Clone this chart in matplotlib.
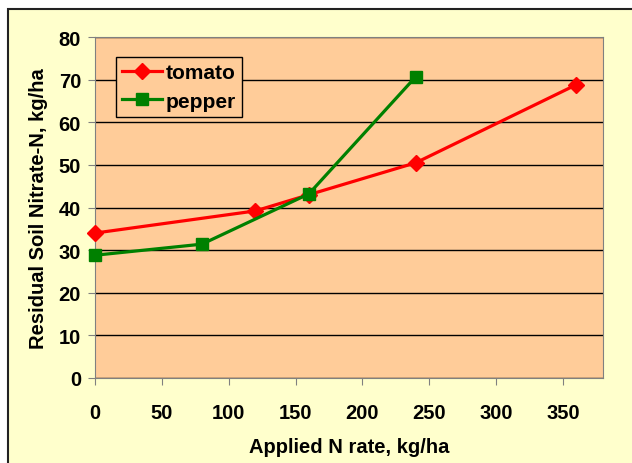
import matplotlib.pyplot as plt
from matplotlib.patches import Rectangle

plt.rcParams['font.family'] = ['Liberation Sans', 'DejaVu Sans']
plt.rcParams['font.weight'] = 'bold'

tomato_x = [0, 120, 160, 240, 360]
tomato_y = [34.0, 39.2, 43.0, 50.5, 68.8]
pepper_x = [0, 80, 160, 240]
pepper_y = [28.8, 31.4, 43.2, 70.7]

fig = plt.figure(figsize=(6.32, 4.64), dpi=100, facecolor='white')
# outer chart box (cut off at right/bottom as in the original)
fig.patches.append(Rectangle((8 / 632, -0.05), 1.1, 1 - 10 / 464 + 0.05,
                             transform=fig.transFigure, facecolor='#FFFFCC',
                             edgecolor='#222222', linewidth=1.5, zorder=-10))

ax = fig.add_axes([95 / 632, 1 - 379 / 464, (603 - 95) / 632, (379 - 38) / 464])
ax.set_facecolor('#FFCC99')

ax.plot(tomato_x, tomato_y, color='#FF0000', lw=2.3, marker='D', ms=8,
        label='tomato', clip_on=False, zorder=3)
ax.plot(pepper_x, pepper_y, color='#008000', lw=2.3, marker='s', ms=9,
        label='pepper', clip_on=False, zorder=3)

ax.set_xlim(0, 380)
ax.set_ylim(0, 80)
ax.set_xticks(range(0, 351, 50))
ax.set_yticks(range(0, 81, 10))
ax.yaxis.grid(True, color='black', lw=1)
ax.set_axisbelow(True)
for s in ax.spines.values():
    s.set_color('#808080')
ax.tick_params(direction='out', color='#808080', length=5, labelsize=14.5, pad=5)
ax.tick_params(axis='x', pad=13)

ax.set_xlabel('Applied N rate, kg/ha', fontsize=14.5, fontweight='bold', labelpad=11)
ax.set_ylabel('Residual Soil Nitrate-N, kg/ha', fontsize=14.5, fontweight='bold', labelpad=8)

leg = ax.legend(loc='upper left', bbox_to_anchor=(0.041, 0.941), fontsize=15,
                frameon=True, fancybox=False, handlelength=1.9, borderpad=0.3,
                labelspacing=0.45, handletextpad=0.2, borderaxespad=0)
leg.get_frame().set_facecolor('#FFCC99')
leg.get_frame().set_edgecolor('black')
leg.get_frame().set_alpha(1)

fig.savefig('out.png', dpi=100, facecolor=fig.get_facecolor())
